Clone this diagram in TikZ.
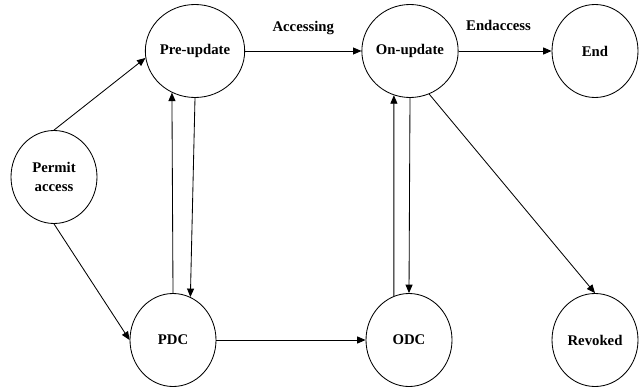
\documentclass[tikz,border=0pt]{standalone}
\usepackage{fontspec}
\setmainfont{Liberation Serif}
\usetikzlibrary{shapes.geometric}
\usetikzlibrary{arrows.meta}

\begin{document}
\begin{tikzpicture}[
    state/.style={ellipse,draw=black,line width=0.6pt,minimum width=2.15cm,minimum height=2.325cm,
      inner sep=0pt,align=center,font=\fontsize{10.5}{14}\selectfont\bfseries},
    flow/.style={line width=0.6pt,-{Triangle[length=6pt,width=5pt]}},
    lbl/.style={font=\fontsize{10.5}{14}\selectfont\bfseries}
  ]
      \useasboundingbox (0,0) rectangle (16,9.75);

      \node[state] (permit) at (1.35,5.325) {Permit\\access};
      \node[state] (pre) at (4.875,8.475) {Pre-update};
      \node[state] (on) at (10.25,8.475) {On-update};
      \node[state] (end) at (14.875,8.475) {End};
      \node[state] (pdc) at (4.325,1.25) {PDC};
      \node[state] (odc) at (10.225,1.25) {ODC};
      \node[state] (revoked) at (14.875,1.25) {Revoked};

      \draw[flow] (permit.north) -- (pre.188);
      \draw[flow] (permit.south) -- (pdc.west);

      \draw[flow] (pdc.north) -- (pre.241);
      \draw[flow] (pre.south) -- (pdc.68);

      \draw[flow] (pre.east) -- node[lbl,above=8pt] {Accessing} (on.west);
      \draw[flow] (on.east) -- node[lbl,above=11pt,pos=0.43] {Endaccess} (end.west);

      \draw[flow] (odc.109) -- (on.250);
      \draw[flow] (on.south) -- (odc.north);
      \draw[flow] (on.-66) -- (revoked.north);

      \draw[flow] (pdc.east) -- (odc.west);
\end{tikzpicture}
\end{document}
